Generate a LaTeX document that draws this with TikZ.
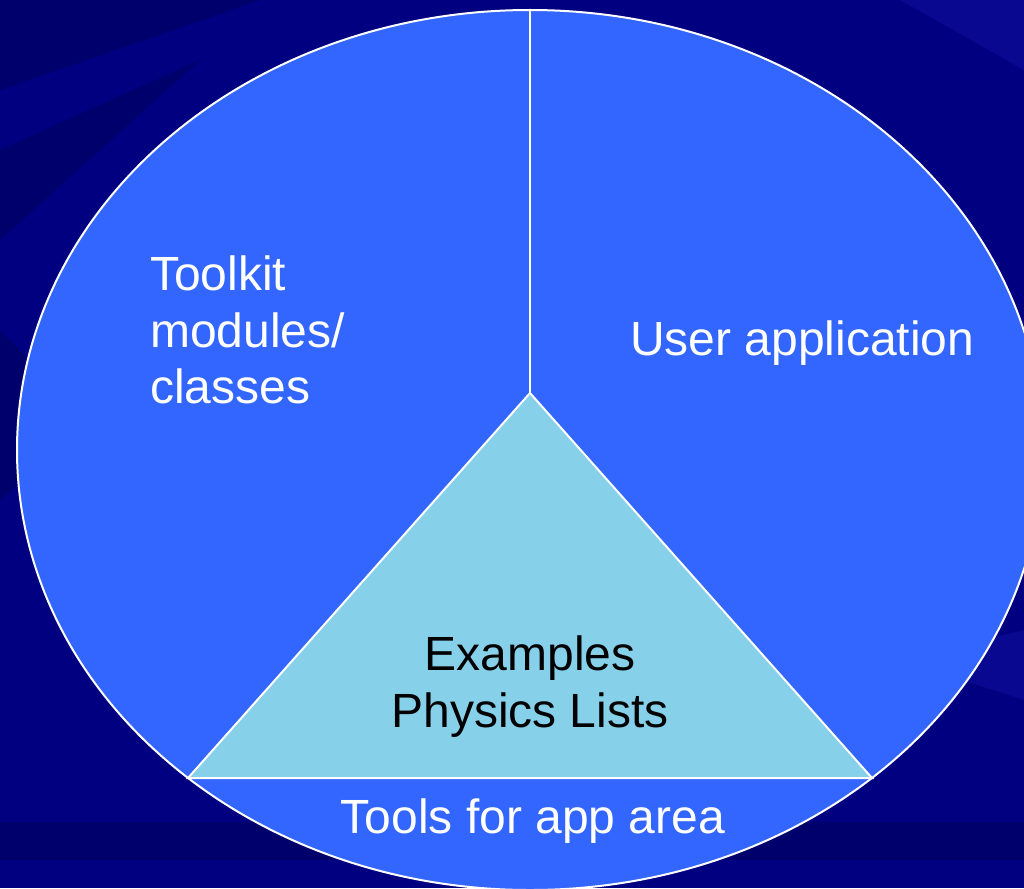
\documentclass[tikz,border=0pt]{standalone}
\usepackage{fontspec}
\setmainfont{Liberation Sans}
\definecolor{bgnavy}{RGB}{0,0,128}
\definecolor{bgdark}{RGB}{0,0,108}
\definecolor{bglight}{RGB}{8,8,145}
\definecolor{pieblue}{RGB}{51,102,255}
\definecolor{skyfill}{RGB}{135,208,234}
\tikzset{
  sector/.style={draw=white, line width=2pt},
  whitelabel/.style={text=white, font=\fontsize{48}{57}\selectfont, inner sep=0pt},
  blacklabel/.style={text=black, font=\fontsize{48}{57}\selectfont, inner sep=0pt},
}
\begin{document}
\begin{tikzpicture}[x=1pt,y=-1pt]
\useasboundingbox (0,0) rectangle (1024,888);
\clip (0,0) rectangle (1024,888);
% background
\fill[bgnavy] (0,0) rectangle (1024,888);
\fill[bgdark] (0,0) -- (260,0) -- (0,90) -- cycle;
\fill[bgdark] (0,150) -- (200,60) -- (0,240) -- cycle;
\fill[bgdark] (0,330) -- (90,420) -- (0,500) -- cycle;
\fill[bgdark] (0,822) rectangle (1024,860);
\fill[bglight] (900,0) -- (1024,0) -- (1024,70) -- cycle;
\fill[bglight] (900,660) -- (1024,630) -- (1024,700) -- cycle;
% pie
\coordinate (c) at (530,450);
\coordinate (top) at (530,10);
\coordinate (apex) at (530,393);
\coordinate (bl) at (188,778);
\coordinate (br) at (872,778);
\fill[pieblue] (c) ellipse [x radius=513, y radius=440];
\filldraw[fill=skyfill, sector] (apex) -- (bl) -- (br) -- cycle;
\draw[sector] (top) -- (apex);
\draw[draw=white, line width=2pt] (c) ellipse [x radius=513, y radius=440];
% labels
\node[whitelabel, anchor=base west] (toolkit) at (150,290) {Toolkit};
\node[whitelabel, anchor=base west] (modules) at (150,347) {modules/};
\node[whitelabel, anchor=base west] (classes) at (150,403) {classes};
\node[whitelabel, anchor=base west] (user) at (630,355) {User application};
\node[blacklabel, anchor=base] (examples) at (530,670) {Examples};
\node[blacklabel, anchor=base] (physics) at (530,727) {Physics Lists};
\node[whitelabel, anchor=base] (tools) at (533,833) {Tools for app area};
\end{tikzpicture}
\end{document}
